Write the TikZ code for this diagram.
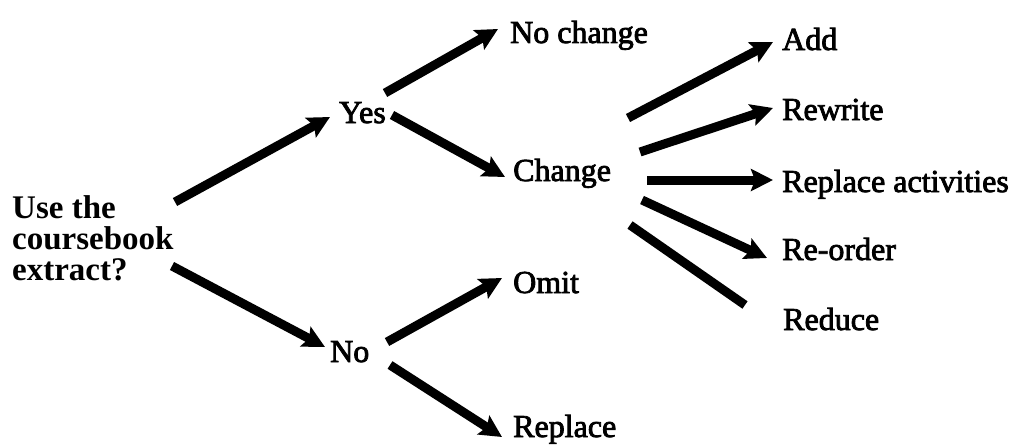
\documentclass[tikz,border=0pt]{standalone}
\usepackage{fontspec}
\newfontfamily\labfont{Liberation Serif}[FakeBold=2.5]
\newfontfamily\rootfont{Liberation Serif Bold}
\usetikzlibrary{arrows.meta}
\begin{document}
\begin{tikzpicture}[x=1pt,y=-1pt,
  lab/.style={inner sep=0pt,anchor=base west,font=\labfont\fontsize{32}{31}\selectfont},
  arr/.style={line width=9pt,-{Stealth[length=22pt,width=22pt,inset=4pt]}},
  bar/.style={line width=9pt}]
\useasboundingbox (0,0) rectangle (1016,444);
\node[lab,anchor=west,align=left,font=\rootfont\fontsize{33}{31}\selectfont] (root) at (12,238) {Use the\\coursebook\\extract?};
\node[lab] (yes) at (339,123) {Yes};
\node[lab] (no) at (330,362) {No};
\node[lab] (nochange) at (510,43) {No change};
\node[lab] (change) at (513,181) {Change};
\node[lab] (omit) at (513,293) {Omit};
\node[lab] (replace) at (513,437) {Replace};
\node[lab] (add) at (782,50) {Add};
\node[lab] (rewrite) at (782,120) {Rewrite};
\node[lab] (repact) at (782,192) {Replace activities};
\node[lab] (reorder) at (782,260) {Re-order};
\node[lab] (reduce) at (783,330) {Reduce};
\draw[arr] ([shift={(163,-36)}]root.west) -- ([shift={(-9,-6)}]yes.base west);
\draw[arr] ([shift={(160,28)}]root.west) -- ([shift={(-5,-15)}]no.base west);
\draw[arr] ([shift={(46,-30)}]yes.base west) -- ([shift={(-12,-14)}]nochange.base west);
\draw[arr] ([shift={(53,-8)}]yes.base west) -- ([shift={(-8,-4)}]change.base west);
\draw[arr] ([shift={(57,-20)}]no.base west) -- ([shift={(-11,-15)}]omit.base west);
\draw[arr] ([shift={(60,3)}]no.base west) -- ([shift={(-11,0)}]replace.base west);
\draw[arr] ([shift={(115,-63)}]change.base west) -- ([shift={(-9,-8)}]add.base west);
\draw[arr] ([shift={(127,-29)}]change.base west) -- ([shift={(-9,-12)}]rewrite.base west);
\draw[arr] ([shift={(134,-1)}]change.base west) -- ([shift={(-9,-12)}]repact.base west);
\draw[arr] ([shift={(129,19)}]change.base west) -- ([shift={(-15,-2)}]reorder.base west);
\draw[bar] ([shift={(117,44)}]change.base west) -- ([shift={(-38,-25)}]reduce.base west);
\end{tikzpicture}
\end{document}
